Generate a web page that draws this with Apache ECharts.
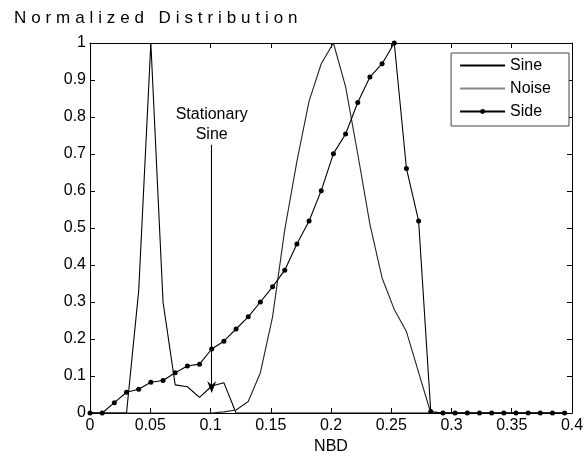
<!DOCTYPE html>
<html>
<head>
<meta charset="utf-8">
<script src="https://cdn.jsdelivr.net/npm/echarts@6/dist/echarts.min.js"></script>
<style>
  html, body { margin: 0; padding: 0; background: #fff; }
  #wrap { position: relative; width: 586px; height: 452px; }
  #chart { width: 586px; height: 452px; }
  .plot-title {
    position: absolute; left: 14px; top: 8px;
    font-family: "Liberation Sans", Arial, sans-serif;
    font-size: 17px; letter-spacing: 4.9px; color: #000;
  }
</style>
</head>
<body>
<div id="wrap">
  <div id="chart"></div>
  <div class="plot-title">Normalized Distribution</div>
</div>
<script>
// NBD bins
const nbd = [0, 0.0101, 0.0202, 0.0303, 0.0404, 0.0505, 0.0606, 0.0707, 0.0808, 0.0909,
  0.1010, 0.1111, 0.1212, 0.1313, 0.1414, 0.1515, 0.1616, 0.1717, 0.1818, 0.1919,
  0.2020, 0.2121, 0.2222, 0.2323, 0.2424, 0.2525, 0.2626, 0.2727, 0.2828, 0.2929,
  0.3030, 0.3131, 0.3232, 0.3333, 0.3434, 0.3535, 0.3636, 0.3737, 0.3838, 0.3939]

const sine = [0, 0, 0, 0, 0.33, 1.0, 0.30, 0.076, 0.071, 0.042,
  0.073, 0.082, 0, 0, 0, 0, 0, 0, 0, 0,
  0, 0, 0, 0, 0, 0, 0, 0, 0, 0,
  0, 0, 0, 0, 0, 0, 0, 0, 0, 0]

const noise = [0, 0, 0, 0, 0, 0, 0, 0, 0, 0,
  0, 0.003, 0.008, 0.031, 0.109, 0.26, 0.495, 0.68, 0.843, 0.944,
  1.0, 0.882, 0.70, 0.51, 0.365, 0.28, 0.22, 0.11, 0, 0,
  0, 0, 0, 0, 0, 0, 0, 0, 0, 0]

const side = [0, 0, 0.028, 0.056, 0.064, 0.083, 0.088, 0.109, 0.127, 0.132,
  0.173, 0.194, 0.227, 0.260, 0.300, 0.341, 0.386, 0.457, 0.519, 0.601,
  0.701, 0.754, 0.839, 0.908, 0.944, 1.0, 0.661, 0.519, 0.004, 0,
  0, 0, 0, 0, 0, 0, 0, 0, 0, 0]

// arrow: x position, from y to y
const arrowX = 0.101
const arrowFrom = 0.725
const arrowTo = 0.07

const font = '"Liberation Sans", Arial, sans-serif'
const pairs = arr => nbd.map((x, i) => [x, arr[i]])
const noDot = { color: 'rgba(0,0,0,0)', borderWidth: 0 }

const chart = echarts.init(document.getElementById('chart'))

const xBase = {
  type: 'value', min: 0, max: 0.4, interval: 0.05,
  axisLine: { onZero: false, lineStyle: { color: '#000', width: 1 } },
  axisTick: { inside: true, length: 5, lineStyle: { color: '#000' } },
  splitLine: { show: false }
}
const yBase = {
  type: 'value', min: 0, max: 1, interval: 0.1,
  axisLine: { show: true, onZero: false, lineStyle: { color: '#000', width: 1 } },
  axisTick: { show: true, inside: true, length: 5, lineStyle: { color: '#000' } },
  splitLine: { show: false }
}

chart.setOption({
  backgroundColor: '#fff',
  animation: false,
  textStyle: { fontFamily: font },
  grid: { left: 90, right: 14, top: 43, bottom: 39, outerBoundsMode: 'none', containLabel: false },
  legend: {
    orient: 'vertical',
    right: 17, top: 53,
    backgroundColor: '#fff',
    borderColor: '#444', borderWidth: 1, borderRadius: 0,
    padding: [4, 18, 6, 8],
    itemWidth: 45, itemHeight: 6, itemGap: 6, itemTextGap: 5,
    textStyle: { fontSize: 16, lineHeight: 17, color: '#000', fontFamily: font },
    data: [
      { name: 'Sine', itemStyle: noDot },
      { name: 'Noise', itemStyle: noDot, lineStyle: { color: '#888' } },
      { name: 'Side' }
    ]
  },
  xAxis: [
    Object.assign({}, xBase, {
      position: 'bottom',
      name: 'NBD', nameLocation: 'middle', nameGap: 23,
      nameTextStyle: { fontSize: 16, color: '#000', fontFamily: font },
      axisLabel: { fontSize: 16, color: '#000', margin: 5, fontFamily: font }
    }),
    Object.assign({}, xBase, { position: 'top', axisLabel: { show: false } })
  ],
  yAxis: [
    Object.assign({}, yBase, {
      position: 'left',
      axisLabel: { fontSize: 16, color: '#000', margin: 4, fontFamily: font }
    }),
    Object.assign({}, yBase, { position: 'right', axisLabel: { show: false } })
  ],
  series: [
    {
      name: 'Sine', type: 'line', data: pairs(sine),
      symbol: 'none', color: '#000',
      lineStyle: { color: '#000', width: 1.1 },
      markLine: {
        silent: true,
        symbol: ['none', 'path://M5,0 L10,12 L5,8 L0,12 Z'],
        symbolSize: [9, 12],
        lineStyle: { color: '#000', width: 1.1, type: 'solid' },
        label: {
          show: true, position: 'start', distance: 0,
          formatter: 'Stationary\nSine',
          fontSize: 16, color: '#000', lineHeight: 20, fontFamily: font, align: 'center'
        },
        data: [[{ coord: [arrowX, arrowFrom] }, { coord: [arrowX, arrowTo] }]]
      }
    },
    {
      name: 'Noise', type: 'line', data: pairs(noise),
      symbol: 'none', color: '#222',
      lineStyle: { color: '#222', width: 1.1 }
    },
    {
      name: 'Side', type: 'line', data: pairs(side),
      symbol: 'circle', symbolSize: 5, color: '#000',
      itemStyle: { color: '#000' },
      lineStyle: { color: '#000', width: 1.1 }
    }
  ]
})
</script>
</body>
</html>
